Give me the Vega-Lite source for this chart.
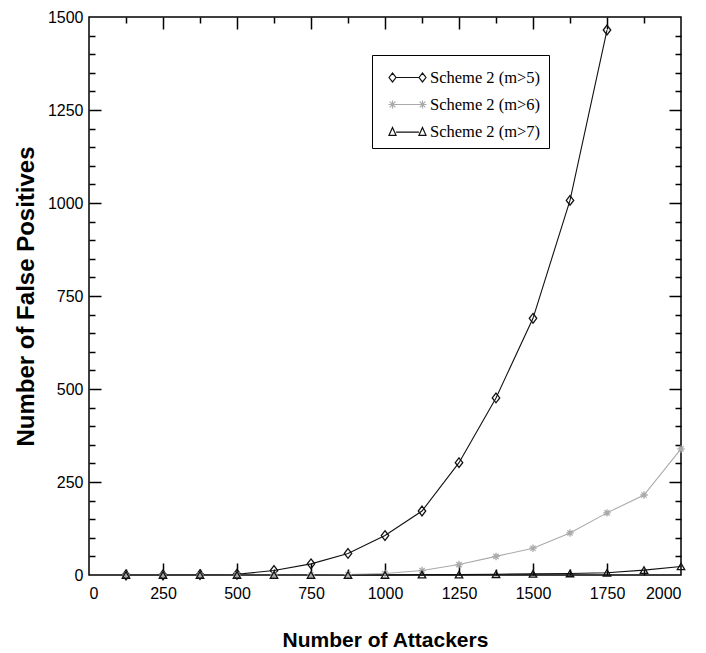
{
  "$schema": "https://vega.github.io/schema/vega-lite/v6.json",
  "width": 592,
  "height": 558,
  "autosize": "none",
  "padding": {"left": 89, "top": 17, "right": 25, "bottom": 78},
  "background": "white",
  "config": {
    "view": {"stroke": "black", "strokeWidth": 1.5},
    "axis": {"grid": false, "domain": false, "tickColor": "black", "tickWidth": 1.5, "labelColor": "black", "titleColor": "black"}
  },
  "data": {"values": [
    {"attackers": 125, "fp": 0, "series": "Scheme 2 (m>5)"},
    {"attackers": 250, "fp": 0, "series": "Scheme 2 (m>5)"},
    {"attackers": 375, "fp": 1, "series": "Scheme 2 (m>5)"},
    {"attackers": 500, "fp": 2, "series": "Scheme 2 (m>5)"},
    {"attackers": 625, "fp": 12, "series": "Scheme 2 (m>5)"},
    {"attackers": 750, "fp": 30, "series": "Scheme 2 (m>5)"},
    {"attackers": 875, "fp": 58, "series": "Scheme 2 (m>5)"},
    {"attackers": 1000, "fp": 106, "series": "Scheme 2 (m>5)"},
    {"attackers": 1125, "fp": 172, "series": "Scheme 2 (m>5)"},
    {"attackers": 1250, "fp": 302, "series": "Scheme 2 (m>5)"},
    {"attackers": 1375, "fp": 476, "series": "Scheme 2 (m>5)"},
    {"attackers": 1500, "fp": 690, "series": "Scheme 2 (m>5)"},
    {"attackers": 1625, "fp": 1007, "series": "Scheme 2 (m>5)"},
    {"attackers": 1750, "fp": 1465, "series": "Scheme 2 (m>5)"},
    {"attackers": 125, "fp": 0, "series": "Scheme 2 (m>6)"},
    {"attackers": 250, "fp": 0, "series": "Scheme 2 (m>6)"},
    {"attackers": 375, "fp": 0, "series": "Scheme 2 (m>6)"},
    {"attackers": 500, "fp": 0, "series": "Scheme 2 (m>6)"},
    {"attackers": 625, "fp": 0, "series": "Scheme 2 (m>6)"},
    {"attackers": 750, "fp": 0, "series": "Scheme 2 (m>6)"},
    {"attackers": 875, "fp": 1, "series": "Scheme 2 (m>6)"},
    {"attackers": 1000, "fp": 4, "series": "Scheme 2 (m>6)"},
    {"attackers": 1125, "fp": 12, "series": "Scheme 2 (m>6)"},
    {"attackers": 1250, "fp": 28, "series": "Scheme 2 (m>6)"},
    {"attackers": 1375, "fp": 50, "series": "Scheme 2 (m>6)"},
    {"attackers": 1500, "fp": 72, "series": "Scheme 2 (m>6)"},
    {"attackers": 1625, "fp": 113, "series": "Scheme 2 (m>6)"},
    {"attackers": 1750, "fp": 167, "series": "Scheme 2 (m>6)"},
    {"attackers": 1875, "fp": 215, "series": "Scheme 2 (m>6)"},
    {"attackers": 2000, "fp": 339, "series": "Scheme 2 (m>6)"},
    {"attackers": 125, "fp": 0, "series": "Scheme 2 (m>7)"},
    {"attackers": 250, "fp": 0, "series": "Scheme 2 (m>7)"},
    {"attackers": 375, "fp": 0, "series": "Scheme 2 (m>7)"},
    {"attackers": 500, "fp": 0, "series": "Scheme 2 (m>7)"},
    {"attackers": 625, "fp": 0, "series": "Scheme 2 (m>7)"},
    {"attackers": 750, "fp": 0, "series": "Scheme 2 (m>7)"},
    {"attackers": 875, "fp": 0, "series": "Scheme 2 (m>7)"},
    {"attackers": 1000, "fp": 0, "series": "Scheme 2 (m>7)"},
    {"attackers": 1125, "fp": 1, "series": "Scheme 2 (m>7)"},
    {"attackers": 1250, "fp": 1, "series": "Scheme 2 (m>7)"},
    {"attackers": 1375, "fp": 2, "series": "Scheme 2 (m>7)"},
    {"attackers": 1500, "fp": 3, "series": "Scheme 2 (m>7)"},
    {"attackers": 1625, "fp": 4, "series": "Scheme 2 (m>7)"},
    {"attackers": 1750, "fp": 6, "series": "Scheme 2 (m>7)"},
    {"attackers": 1875, "fp": 13, "series": "Scheme 2 (m>7)"},
    {"attackers": 2000, "fp": 23, "series": "Scheme 2 (m>7)"}
  ]},
  "resolve": {"axis": {"x": "independent", "y": "independent"}},
  "layer": [
    {
      "mark": {"type": "line", "strokeWidth": 1.1},
      "encoding": {
        "x": {"field": "attackers", "type": "quantitative", "scale": {"domain": [0, 2000], "nice": false},
          "axis": {"orient": "bottom", "values": [0, 250, 500, 750, 1000, 1250, 1500, 1750, 2000], "format": "d", "ticks": false, "labelPadding": 10,
            "labelFont": "Liberation Sans", "labelFontSize": 16,
            "title": "Number of Attackers", "titleFont": "Liberation Sans", "titleFontSize": 21, "titleFontWeight": "bold", "titlePadding": 28}},
        "y": {"field": "fp", "type": "quantitative", "scale": {"domain": [0, 1500], "nice": false},
          "axis": {"orient": "left", "values": [0, 250, 500, 750, 1000, 1250, 1500], "format": "d", "ticks": false, "labelPadding": 6,
            "labelFont": "Liberation Sans", "labelFontSize": 16,
            "title": "Number of False Positives", "titleFont": "Liberation Sans", "titleFontSize": 24, "titleFontWeight": "bold", "titlePadding": 9}},
        "color": {"field": "series", "type": "nominal",
          "scale": {"domain": ["Scheme 2 (m>5)", "Scheme 2 (m>6)", "Scheme 2 (m>7)"], "range": ["#111111", "#aaaaaa", "#111111"]},
          "legend": {"orient": "none", "legendX": 283, "legendY": 38, "title": null, "strokeColor": "black", "fillColor": "white", "padding": 8,
            "symbolSize": 729, "symbolStrokeWidth": 1.2, "symbolOffset": 13, "symbolType": "M-0.85,0L0.85,0",
            "labelFont": "Liberation Serif", "labelFontSize": 16.5, "labelColor": "black", "labelOffset": 8, "rowPadding": 4,
            "encode": {"symbols": {"update": {"shape": {"signal": "datum.value === 'Scheme 2 (m>5)' ? 'M-0.85,0L0.85,0M-1.37,0L-1.11,-0.33L-0.85,0L-1.11,0.33ZM0.85,0L1.11,-0.33L1.37,0L1.11,0.33Z' : datum.value === 'Scheme 2 (m>6)' ? 'M-0.81,0L0.81,0M-1.41,0L-0.81,0M-1.11,-0.3L-1.11,0.3M-1.32,-0.21L-0.9,0.21M-1.32,0.21L-0.9,-0.21M0.81,0L1.41,0M1.11,-0.3L1.11,0.3M0.9,-0.21L1.32,0.21M0.9,0.21L1.32,-0.21' : 'M-0.85,0.05L0.85,0.05M-1.37,0.28L-1.11,-0.3L-0.85,0.28ZM0.85,0.28L1.11,-0.3L1.37,0.28Z'"}}}}
          }
        }
      }
    },
    {
      "transform": [{"filter": "datum.series === 'Scheme 2 (m>5)'"}],
      "mark": {"type": "point", "filled": false, "strokeWidth": 1.3, "opacity": 1, "color": "#111111", "shape": "M0,-1.3L1,0L0,1.3L-1,0Z", "size": 56},
      "encoding": {
        "x": {"field": "attackers", "type": "quantitative", "scale": {"domain": [0, 2000], "nice": false},
          "axis": {"orient": "bottom", "values": [250, 500, 750, 1000, 1250, 1500, 1750], "tickSize": -12, "labels": false, "title": null}},
        "y": {"field": "fp", "type": "quantitative", "scale": {"domain": [0, 1500], "nice": false},
          "axis": {"orient": "left", "values": [250, 500, 750, 1000, 1250], "tickSize": -12, "labels": false, "title": null}}
      }
    },
    {
      "transform": [{"filter": "datum.series === 'Scheme 2 (m>6)'"}],
      "mark": {"type": "point", "filled": false, "strokeWidth": 1.3, "opacity": 1, "color": "#aaaaaa", "shape": "M-1,0L1,0M0,-1L0,1M-0.7,-0.7L0.7,0.7M-0.7,0.7L0.7,-0.7", "size": 56},
      "encoding": {
        "x": {"field": "attackers", "type": "quantitative", "scale": {"domain": [0, 2000], "nice": false},
          "axis": {"orient": "bottom", "values": [125, 375, 625, 875, 1125, 1375, 1625, 1875], "tickSize": -6, "labels": false, "title": null}},
        "y": {"field": "fp", "type": "quantitative", "scale": {"domain": [0, 1500], "nice": false},
          "axis": {"orient": "left", "values": [50, 100, 150, 200, 300, 350, 400, 450, 550, 600, 650, 700, 800, 850, 900, 950, 1050, 1100, 1150, 1200, 1300, 1350, 1400, 1450], "tickSize": -6, "labels": false, "title": null}}
      }
    },
    {
      "transform": [{"filter": "datum.series === 'Scheme 2 (m>7)'"}],
      "mark": {"type": "point", "filled": false, "strokeWidth": 1.3, "opacity": 1, "color": "#111111", "shape": "triangle-up", "size": 56},
      "encoding": {
        "x": {"field": "attackers", "type": "quantitative", "scale": {"domain": [0, 2000], "nice": false},
          "axis": {"orient": "top", "values": [250, 500, 750, 1000, 1250, 1500, 1750], "tickSize": -12, "labels": false, "title": null}},
        "y": {"field": "fp", "type": "quantitative", "scale": {"domain": [0, 1500], "nice": false},
          "axis": {"orient": "right", "values": [250, 500, 750, 1000, 1250], "tickSize": -12, "labels": false, "title": null}}
      }
    },
    {
      "mark": {"type": "point", "opacity": 0},
      "encoding": {
        "x": {"field": "attackers", "type": "quantitative", "scale": {"domain": [0, 2000], "nice": false},
          "axis": {"orient": "top", "values": [125, 375, 625, 875, 1125, 1375, 1625, 1875], "tickSize": -6, "labels": false, "title": null}},
        "y": {"field": "fp", "type": "quantitative", "scale": {"domain": [0, 1500], "nice": false},
          "axis": {"orient": "right", "values": [50, 100, 150, 200, 300, 350, 400, 450, 550, 600, 650, 700, 800, 850, 900, 950, 1050, 1100, 1150, 1200, 1300, 1350, 1400, 1450], "tickSize": -6, "labels": false, "title": null}}
      }
    }
  ]
}
